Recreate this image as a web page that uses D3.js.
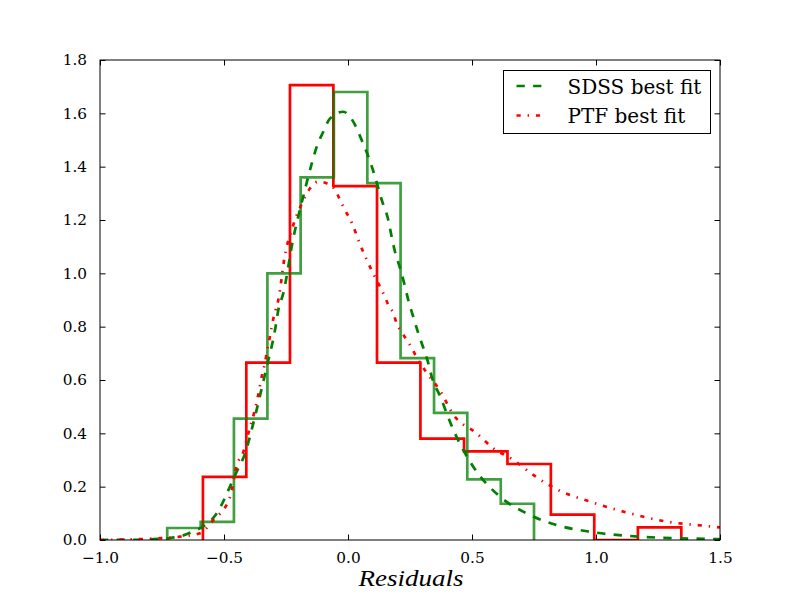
<!DOCTYPE html>
<html>
<head>
<meta charset="utf-8">
<script src="https://cdn.jsdelivr.net/npm/d3@7"></script>
<style>
  body { margin: 0; background: #fff; }
  svg { display: block; }
  text { font-family: "DejaVu Serif", "Liberation Serif", serif; }
</style>
</head>
<body>
<svg id="chart" width="800" height="600"></svg>
<script>
// PTF histogram (red), bin edges and densities
const ptfEdges = [-0.585, -0.410, -0.234, -0.059, 0.117, 0.292, 0.468, 0.643, 0.818, 0.993, 1.169, 1.344];
const ptfHeights = [0.237, 0.665, 1.706, 1.327, 0.665, 0.380, 0.332, 0.285, 0.095, 0.0, 0.047];

// SDSS histogram (green)
const sdssEdges = [-0.729, -0.594, -0.460, -0.325, -0.191, -0.057, 0.078, 0.212, 0.347, 0.481, 0.616, 0.750];
const sdssHeights = [0.045, 0.068, 0.455, 1.0, 1.36, 1.68, 1.338, 0.682, 0.477, 0.227, 0.136];

// best fit curves
const sdssFit = [
  [-1.0, 0.0], [-0.85, 0.001], [-0.75, 0.005], [-0.718, 0.007], [-0.637, 0.027], [-0.529, 0.10],
  [-0.476, 0.20], [-0.449, 0.256], [-0.415, 0.325], [-0.399, 0.375], [-0.382, 0.4375], [-0.368, 0.49],
  [-0.335, 0.62], [-0.321, 0.675], [-0.305, 0.7375], [-0.292, 0.80], [-0.281, 0.8625], [-0.261, 0.925],
  [-0.221, 1.13], [-0.18, 1.29], [-0.146, 1.4125], [-0.126, 1.475], [-0.100, 1.53], [-0.073, 1.58],
  [-0.019, 1.606], [0.021, 1.569], [0.055, 1.50], [0.082, 1.4375], [0.109, 1.3625], [0.136, 1.275],
  [0.1625, 1.20], [0.176, 1.1375], [0.1895, 1.081], [0.21, 1.019], [0.23, 0.95], [0.243, 0.90],
  [0.263, 0.8375], [0.2835, 0.775], [0.304, 0.72], [0.324, 0.6625], [0.3375, 0.6125], [0.371, 0.54],
  [0.425, 0.4125], [0.505, 0.275], [0.613, 0.1625], [0.72, 0.10], [0.842, 0.056], [0.976, 0.031],
  [1.177, 0.0125], [1.446, 0.004], [1.5, 0.003]
];

const ptfFit = [
  [-1.0, 0.0], [-0.9, 0.002], [-0.771, 0.006], [-0.677, 0.0125], [-0.597, 0.025], [-0.543, 0.075],
  [-0.476, 0.16], [-0.449, 0.28], [-0.422, 0.33], [-0.402, 0.40], [-0.379, 0.475], [-0.362, 0.544],
  [-0.348, 0.6125], [-0.338, 0.65], [-0.324, 0.72], [-0.315, 0.7625], [-0.301, 0.83], [-0.292, 0.8625],
  [-0.281, 0.90], [-0.274, 0.9375], [-0.261, 1.03], [-0.221, 1.18], [-0.187, 1.26], [-0.153, 1.319],
  [-0.120, 1.344], [-0.086, 1.3375], [-0.052, 1.3125], [-0.032, 1.275], [-0.016, 1.244], [0.015, 1.19],
  [0.048, 1.11], [0.096, 1.01], [0.129, 0.95], [0.149, 0.9125], [0.163, 0.88], [0.183, 0.85],
  [0.196, 0.8125], [0.216, 0.78], [0.237, 0.75], [0.257, 0.72], [0.274, 0.69], [0.317, 0.6275],
  [0.371, 0.56], [0.425, 0.47], [0.519, 0.40], [0.586, 0.344], [0.667, 0.30], [0.747, 0.244],
  [0.842, 0.19], [0.976, 0.144], [1.137, 0.10], [1.285, 0.069], [1.446, 0.0525], [1.5, 0.047]
];

const xTicks = [-1.0, -0.5, 0.0, 0.5, 1.0, 1.5];
const yTicks = [0.0, 0.2, 0.4, 0.6, 0.8, 1.0, 1.2, 1.4, 1.6, 1.8];
const legendItems = [
  { label: 'SDSS best fit', color: '#008000', dash: '8.3,8.3' },
  { label: 'PTF best fit', color: '#ff0000', dash: '4.2,6.9,1.4,6.9' }
];

const margin = { top: 60, right: 80, bottom: 60, left: 100 };
const width = 800 - margin.left - margin.right;
const height = 600 - margin.top - margin.bottom;

const svg = d3.select('#chart');
const g = svg.append('g')
  .attr('transform', `translate(${margin.left},${margin.top})`);

const x = d3.scaleLinear().domain([-1.0, 1.5]).range([0, width]);
const y = d3.scaleLinear().domain([0, 1.8]).range([height, 0]);

g.append('clipPath').attr('id', 'plot-clip')
  .append('rect').attr('width', width).attr('height', height);

const plot = g.append('g').attr('clip-path', 'url(#plot-clip)');

// step outline like histtype='step'
function stepPoints(edges, heights) {
  const pts = [[edges[0], 0]];
  heights.forEach(function (h, i) {
    pts.push([edges[i], h]);
    pts.push([edges[i + 1], h]);
  });
  pts.push([edges[edges.length - 1], 0]);
  return pts;
}

const straight = d3.line()
  .x(function (d) { return x(d[0]); })
  .y(function (d) { return y(d[1]); });

const smooth = d3.line()
  .x(function (d) { return x(d[0]); })
  .y(function (d) { return y(d[1]); })
  .curve(d3.curveMonotoneX);

plot.append('path')
  .attr('d', straight(stepPoints(ptfEdges, ptfHeights)))
  .attr('fill', 'none')
  .attr('stroke', '#ff0000')
  .attr('stroke-width', 2.7)
  .attr('stroke-linejoin', 'miter');

plot.append('path')
  .attr('d', straight(stepPoints(sdssEdges, sdssHeights)))
  .attr('fill', 'none')
  .attr('stroke', '#008000')
  .attr('stroke-opacity', 0.75)
  .attr('stroke-width', 2.7)
  .attr('stroke-linejoin', 'miter');

plot.append('path')
  .attr('d', smooth(sdssFit))
  .attr('fill', 'none')
  .attr('stroke', legendItems[0].color)
  .attr('stroke-width', 2.7)
  .attr('stroke-dasharray', legendItems[0].dash);

plot.append('path')
  .attr('d', smooth(ptfFit))
  .attr('fill', 'none')
  .attr('stroke', legendItems[1].color)
  .attr('stroke-width', 2.7)
  .attr('stroke-dasharray', legendItems[1].dash);

// axes, ticks pointing inward on all four sides
const tickLen = 5.5;
const fmt = function (d) { return d3.format('.1f')(d).replace('-', '\u2212'); };

const xAxisBottom = d3.axisBottom(x).tickValues(xTicks)
  .tickSizeInner(-tickLen).tickSizeOuter(0).tickPadding(12)
  .tickFormat(fmt);
const xAxisTop = d3.axisTop(x).tickValues(xTicks)
  .tickSizeInner(-tickLen).tickSizeOuter(0).tickFormat('');
const yAxisLeft = d3.axisLeft(y).tickValues(yTicks)
  .tickSizeInner(-tickLen).tickSizeOuter(0).tickPadding(13)
  .tickFormat(fmt);
const yAxisRight = d3.axisRight(y).tickValues(yTicks)
  .tickSizeInner(-tickLen).tickSizeOuter(0).tickFormat('');

function styleAxis(sel) {
  sel.select('.domain').remove();
  sel.selectAll('line').attr('stroke', '#000').attr('stroke-width', 1);
  sel.selectAll('text')
    .attr('fill', '#000')
    .style('font-family', '"DejaVu Serif", "Liberation Serif", serif')
    .style('font-size', '15.3px');
}

g.append('g').attr('transform', `translate(0,${height})`).call(xAxisBottom).call(styleAxis);
g.append('g').call(xAxisTop).call(styleAxis);
g.append('g').call(yAxisLeft).call(styleAxis);
g.append('g').attr('transform', `translate(${width},0)`).call(yAxisRight).call(styleAxis);

g.append('rect')
  .attr('x', 0).attr('y', 0)
  .attr('width', width).attr('height', height)
  .attr('fill', 'none')
  .attr('stroke', '#000')
  .attr('stroke-width', 1);

// axis label
svg.append('text')
  .attr('x', 411)
  .attr('y', 586)
  .attr('text-anchor', 'middle')
  .style('font-family', '"Liberation Serif", serif')
  .style('font-style', 'italic')
  .style('font-size', '24px')
  .attr('textLength', 105)
  .attr('lengthAdjust', 'spacingAndGlyphs')
  .text('Residuals');

// legend
const legend = svg.append('g').attr('transform', 'translate(503.5,70.5)');
legend.append('rect')
  .attr('width', 207).attr('height', 63)
  .attr('fill', '#fff')
  .attr('stroke', '#000')
  .attr('stroke-width', 1);

const rows = legend.selectAll('g.row')
  .data(legendItems)
  .enter().append('g')
  .attr('class', 'row')
  .attr('transform', function (d, i) { return `translate(0,${15.5 + i * 29.5})`; });

rows.append('line')
  .attr('x1', 13).attr('x2', 40)
  .attr('y1', 0).attr('y2', 0)
  .attr('stroke', function (d) { return d.color; })
  .attr('stroke-width', 2.7)
  .attr('stroke-dasharray', function (d) { return d.dash; });

rows.append('text')
  .attr('x', 64)
  .attr('y', 7.5)
  .style('font-size', '20px')
  .attr('fill', '#000')
  .text(function (d) { return d.label; });
</script>
</body>
</html>
